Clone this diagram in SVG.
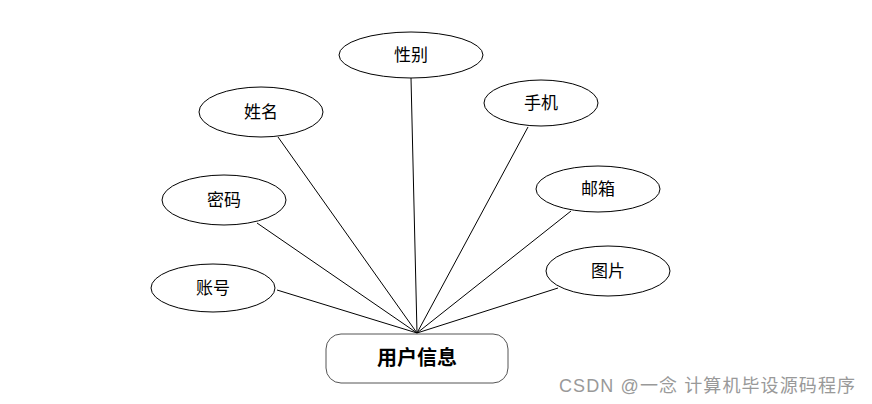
<svg xmlns="http://www.w3.org/2000/svg" width="872" height="404" viewBox="0 0 872 404">
<style>
.e{fill:#fff;stroke:#000;stroke-width:1}
.t{font-family:"Liberation Serif","Noto Sans CJK SC",serif;font-size:17px;fill:#000;text-anchor:middle;dominant-baseline:central}
.c line{stroke:#000;stroke-width:1}
</style>
<rect width="872" height="404" fill="#fff"/>
<g class="c" id="connectors">
<line x1="411" y1="78" x2="417" y2="333"/>
<line x1="278" y1="137" x2="417" y2="333"/>
<line x1="257" y1="223" x2="417" y2="333"/>
<line x1="277" y1="290" x2="417" y2="333"/>
<line x1="528" y1="127" x2="417" y2="333"/>
<line x1="571" y1="211" x2="417" y2="333"/>
<line x1="558" y1="288" x2="417" y2="333"/>
</g>
<g id="n-xingbie"><ellipse class="e" cx="411" cy="55" rx="72" ry="23"/><text class="t" x="411" y="55">性别</text></g>
<g id="n-xingming"><ellipse class="e" cx="261" cy="112" rx="62" ry="25"/><text class="t" x="261" y="112">姓名</text></g>
<g id="n-mima"><ellipse class="e" cx="224" cy="200" rx="62" ry="25"/><text class="t" x="224" y="200">密码</text></g>
<g id="n-zhanghao"><ellipse class="e" cx="213" cy="288" rx="62" ry="24"/><text class="t" x="213" y="288">账号</text></g>
<g id="n-shouji"><ellipse class="e" cx="541" cy="103" rx="57" ry="23"/><text class="t" x="541" y="103">手机</text></g>
<g id="n-youxiang"><ellipse class="e" cx="598" cy="189" rx="62" ry="23"/><text class="t" x="598" y="189">邮箱</text></g>
<g id="n-tupian"><ellipse class="e" cx="608" cy="271" rx="62" ry="25"/><text class="t" x="608" y="271">图片</text></g>
<g id="n-yonghu"><rect x="326" y="334" width="182" height="49" rx="15" fill="#fff" stroke="#555" stroke-width="1"/><text class="t" x="417" y="358" style="font-size:20px;font-weight:bold">用户信息</text></g>
<text x="559" y="392" textLength="296" lengthAdjust="spacing" style="font-family:'Liberation Sans','Noto Sans CJK SC',sans-serif;font-size:18px;fill:#999">CSDN @一念 计算机毕设源码程序</text>
</svg>
